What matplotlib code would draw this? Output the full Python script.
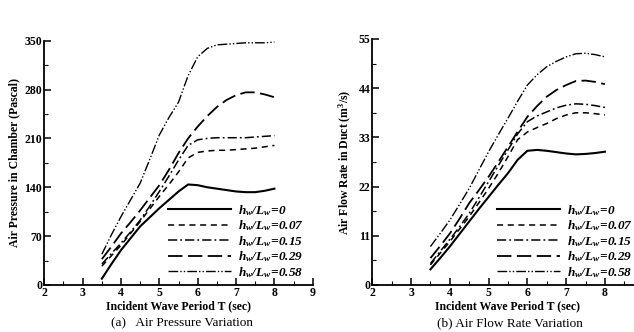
import matplotlib
matplotlib.use("Agg")
import matplotlib.pyplot as plt
from matplotlib.ticker import MultipleLocator

plt.rcParams['font.family'] = ['Liberation Serif', 'DejaVu Serif']
plt.rcParams['mathtext.fontset'] = 'custom'
plt.rcParams['mathtext.rm'] = 'Liberation Serif:italic:bold'
plt.rcParams['mathtext.it'] = 'Liberation Serif:italic:bold'
plt.rcParams['mathtext.bf'] = 'Liberation Serif:italic:bold'

# wave period (sec)
period = [3.5, 3.75, 4, 4.25, 4.5, 4.75, 5, 5.25, 5.5, 5.75, 6, 6.25, 6.5, 6.75, 7, 7.25, 7.5, 7.75, 8]

labels = [r"$h_w/L_w\!=\!0$", r"$h_w/L_w\!=\!0.07$", r"$h_w/L_w\!=\!0.15$",
          r"$h_w/L_w\!=\!0.29$", r"$h_w/L_w\!=\!0.58$"]

xtick_labels = ['2', '3', '4', '5', '6', '7', '8', '9']

# (a) air pressure in chamber (Pascal)
pres_000 = [9, 30, 50, 67, 84, 97, 110, 122, 134, 144, 143, 140, 138, 136, 134, 133, 133, 135, 138]
pres_007 = [27, 42, 57, 74, 91, 109, 127, 144, 162, 182, 190, 192, 193, 193, 194, 195, 196, 198, 200]
pres_015 = [30, 45, 60, 76, 93, 113, 134, 156, 179, 200, 208, 210, 211, 211, 211, 211, 212, 213, 214]
pres_029 = [37, 55, 74, 90, 107, 125, 143, 165, 189, 210, 227, 242, 255, 265, 272, 276, 276, 273, 269]
pres_058 = [44, 72, 98, 122, 146, 180, 215, 240, 262, 300, 327, 339, 344, 345, 346, 347, 347, 347, 348]

# (b) air flow rate in duct (m^3/s)
flow_000 = [3.5, 6, 8.6, 11.4, 14.2, 17, 19.7, 22.4, 25, 28, 30, 30.2, 30, 29.7, 29.4, 29.2, 29.3, 29.5, 29.8]
flow_007 = [4.5, 7.1, 9.7, 12.5, 15.3, 18.4, 21.6, 25, 28.7, 32.5, 34.2, 35.2, 36.1, 37.2, 38, 38.5, 38.5, 38.3, 38]
flow_015 = [4.8, 7.5, 10.2, 13, 16, 19.5, 23.1, 26.7, 30.2, 33.8, 36.5, 37.8, 38.7, 39.6, 40.2, 40.5, 40.4, 40.1, 39.7]
flow_029 = [6, 8.7, 11.5, 14.8, 18.3, 21.2, 24.2, 27.5, 30.9, 34.3, 37.6, 40, 42.1, 43.6, 44.7, 45.6, 45.7, 45.4, 44.9]
flow_058 = [8.6, 11.5, 14.5, 18, 21.6, 25.7, 29.8, 33.6, 37.3, 41.1, 44.7, 47, 48.8, 50, 51, 51.7, 51.8, 51.5, 51]

styles = [
    dict(ls='-', lw=1.5),
    dict(ls=(0, (4, 3)), lw=1.1),
    dict(ls=(0, (6, 2, 1.2, 2)), lw=1.1),
    dict(ls=(0, (8, 3)), lw=1.3),
    dict(ls=(0, (7, 1.5, 1, 1.5, 1, 1.5)), lw=1.0),
]

fig = plt.figure(figsize=(6.34, 3.32), dpi=100)
ax1 = fig.add_axes([0.0699, 0.1416, 0.4234, 0.7358])
ax2 = fig.add_axes([0.5872, 0.1416, 0.4281, 0.7410])


def style_axes(ax, ymax, ystep, ylabel, xlabels):
    ax.set_xlim(2, 9)
    ax.set_ylim(0, ymax)
    ax.set_xticks(range(2, 10))
    ax.set_xticklabels(xlabels)
    ax.xaxis.set_minor_locator(MultipleLocator(0.5))
    ax.yaxis.set_major_locator(MultipleLocator(ystep))
    ax.yaxis.set_minor_locator(MultipleLocator(ystep / 2))
    for s in ['top', 'right']:
        ax.spines[s].set_visible(False)
    for s in ['left', 'bottom']:
        ax.spines[s].set_linewidth(1.3)
    ax.tick_params(which='major', direction='in', length=5, width=1.1, labelsize=8.5, pad=1.5)
    ax.tick_params(which='minor', direction='in', length=3, width=0.8)
    for t in ax.get_xticklabels() + ax.get_yticklabels():
        t.set_fontweight('bold')
    ax.set_xlabel("Incident Wave Period T (sec)", fontsize=8.5, fontweight='bold', labelpad=1)
    ax.set_ylabel(ylabel, fontsize=8.5, fontweight='bold', labelpad=3)


for y, lab, st in zip([pres_000, pres_007, pres_015, pres_029, pres_058], labels, styles):
    ax1.plot(period, y, color='black', label=lab, **st)
for y, lab, st in zip([flow_000, flow_007, flow_015, flow_029, flow_058], labels, styles):
    ax2.plot(period, y, color='black', label=lab, **st)

style_axes(ax1, 350, 70, "Air Pressure in Chamber (Pascal)", xtick_labels)
# the right panel runs off the page edge, so its last label is not shown
style_axes(ax2, 55, 11, r"Air Flow Rate in Duct (m$^\mathregular{3}$/s)", xtick_labels[:-1] + [''])

for ax in (ax1, ax2):
    ax.legend(loc='lower left', bbox_to_anchor=(0.44, 0.0), frameon=False, fontsize=9.5,
              handlelength=4.8, handletextpad=0.5, labelspacing=0.05, borderaxespad=0)

fig.text(182 / 634, 1 - 323 / 332, "(a)   Air Pressure Variation", ha='center', va='center', fontsize=9.5)
fig.text(510 / 634, 1 - 323 / 332, "(b) Air Flow Rate Variation", ha='center', va='center', fontsize=9.5)

fig.savefig("out.png", dpi=100)
